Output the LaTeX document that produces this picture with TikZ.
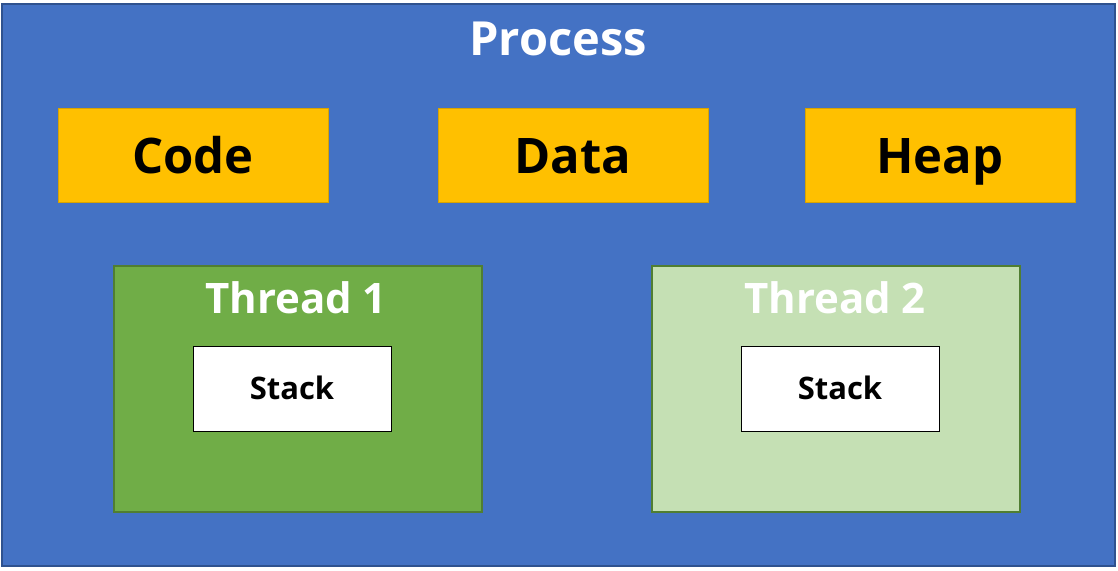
\documentclass[tikz,border=0pt]{standalone}
\usepackage{fontspec}
\setmainfont{Open Sans}[BoldFont={* Bold}]
\definecolor{procfill}{HTML}{4472C4}
\definecolor{procline}{HTML}{2F528F}
\definecolor{segfill}{HTML}{FFC000}
\definecolor{segline}{HTML}{D9A300}
\definecolor{t1fill}{HTML}{70AD47}
\definecolor{tline}{HTML}{507E32}
\definecolor{t2fill}{HTML}{C5E0B4}
\tikzset{
  box/.style={anchor=north west, inner sep=0pt, outer sep=0pt},
  segbox/.style={box, fill=segfill, draw=segline, line width=0.8pt, minimum width=270pt, minimum height=94pt, text height=36pt, text depth=0pt, font=\fontsize{49}{54}\selectfont\bfseries, text=black},
  thbox/.style={box, draw=tline, line width=1.2pt, minimum width=368pt, minimum height=246pt},
  stackbox/.style={box, fill=white, draw=black, line width=1pt, minimum width=198pt, minimum height=85pt, text height=21pt, text depth=0pt, font=\fontsize{31}{36}\selectfont\bfseries, text=black},
  thlabel/.style={anchor=base, font=\fontsize{42}{48}\selectfont\bfseries, text=white, inner sep=0pt},
}
\begin{document}
\begin{tikzpicture}[x=1pt,y=-1pt]
\useasboundingbox (0,0) rectangle (1118,570);
\node[box, fill=procfill, draw=procline, line width=1.5pt, minimum width=1113pt, minimum height=562pt] (proc) at (2,4) {};
\node[anchor=base, font=\fontsize{47}{52}\selectfont\bfseries, text=white, inner sep=0pt] (proclabel) at (558,55) {Process};
\node[segbox] (code) at (58,108) {Code};
\node[segbox] (data) at (438,108) {Data};
\node[segbox] (heap) at (805,108) {Heap};
\node[thbox, fill=t1fill] (t1) at (114,266) {};
\node[thbox, fill=t2fill] (t2) at (652,266) {};
\node[thlabel] (t1label) at (296,313) {Thread 1};
\node[thlabel] (t2label) at (835,313) {Thread 2};
\node[stackbox] (s1) at (193,346) {Stack};
\node[stackbox] (s2) at (741,346) {Stack};
\end{tikzpicture}
\end{document}
